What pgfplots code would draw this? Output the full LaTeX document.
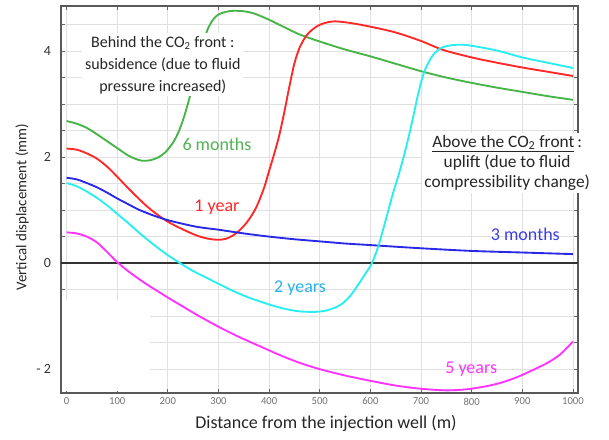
\documentclass[border=0pt]{standalone}
\usepackage{fontspec}
\setmainfont{Carlito}
\usepackage{pgfplots}
\pgfplotsset{compat=1.18}
\definecolor{cgreen}{RGB}{70,180,70}
\definecolor{cred}{RGB}{255,40,40}
\definecolor{cblue}{RGB}{40,40,230}
\definecolor{ccyan}{RGB}{40,238,240}
\definecolor{cmag}{RGB}{255,50,255}
\definecolor{tgreen}{RGB}{80,180,80}
\definecolor{tcyan}{RGB}{40,176,232}
\definecolor{tblue}{RGB}{60,60,230}
\begin{document}
\begin{tikzpicture}
\path[use as bounding box] (-45.75pt,-34.5pt) rectangle (411pt,294.75pt);
\begin{axis}[
  at={(0,0)}, anchor=south west,
  scale only axis, width=387.75pt, height=290.25pt,
  xmin=-11, xmax=1010, ymin=-2.45, ymax=4.85,
  xtick={0,100,...,1000},
  ytick={-2,-1.5,...,4.5},
  yticklabels={- 2,,,,0,,,,2,,,,4,},
  grid=major, major grid style={draw=black!12, line width=0.6pt},
  axis line style={draw=black!65, line width=0.9pt},
  tick align=inside, major tick length=3pt, tick style={black!60, line width=0.6pt},
  /pgf/number format/assume math mode=true,
  /pgf/number format/1000 sep={},
  xticklabel style={font=\fontsize{8}{9}\selectfont, text=black!55},
  yticklabel style={font=\fontsize{10.5}{12}\selectfont, text=black!80, xshift=-4pt},
  xlabel={Distance from the injection well (m)},
  ylabel={Vertical displacement (mm)},
  xlabel style={at={(rel axis cs:0.5126,-0.0775)}, anchor=center, font=\fontsize{13.5}{15}\selectfont, text=black!85},
  ylabel style={at={(rel axis cs:-0.0754,0.48)}, anchor=center, font=\fontsize{11.2}{13}\selectfont, text=black!85},
  clip=false,
  every axis plot/.append style={line width=1.4pt, smooth},
]
\fill[white] (axis cs:-9,-2.42) rectangle (axis cs:165,-0.7);
\draw[black!80, line width=1.1pt] (axis cs:-11,0) -- (axis cs:1010,0);

% 6 months
\addplot[cgreen] coordinates {
(0,2.68)(20,2.63)(40,2.55)(60,2.43)(80,2.30)(100,2.17)(120,2.04)(135,1.97)(150,1.93)(165,1.94)(180,1.99)(195,2.09)(210,2.27)(220,2.45)(230,2.70)(240,3.02)(250,3.40)(260,3.80)(270,4.17)(280,4.44)(290,4.60)(300,4.69)(315,4.74)(330,4.76)(350,4.75)(370,4.71)(400,4.59)(430,4.45)(461,4.31)(500,4.18)(550,4.03)(600,3.90)(650,3.76)(700,3.62)(750,3.50)(800,3.40)(850,3.31)(900,3.23)(950,3.15)(1000,3.08)};
% 1 year
\addplot[cred] coordinates {
(0,2.16)(20,2.14)(40,2.07)(60,1.97)(80,1.82)(100,1.63)(120,1.43)(140,1.24)(160,1.06)(180,0.91)(200,0.78)(220,0.68)(240,0.59)(260,0.51)(280,0.46)(300,0.44)(315,0.46)(330,0.53)(345,0.65)(360,0.82)(375,1.06)(390,1.42)(400,1.74)(410,2.06)(420,2.41)(430,2.85)(440,3.33)(450,3.77)(460,4.06)(470,4.24)(480,4.36)(495,4.47)(510,4.53)(530,4.56)(560,4.53)(600,4.46)(650,4.35)(700,4.19)(744,4.02)(800,3.88)(850,3.78)(900,3.69)(950,3.61)(1000,3.53)};
% 3 months
\addplot[cblue] coordinates {
(0,1.61)(20,1.58)(40,1.51)(60,1.43)(80,1.33)(100,1.22)(120,1.12)(140,1.02)(160,0.94)(180,0.87)(200,0.81)(230,0.74)(260,0.68)(300,0.63)(350,0.56)(400,0.50)(450,0.45)(500,0.41)(550,0.37)(600,0.34)(700,0.28)(800,0.23)(900,0.20)(1000,0.17)};
% 2 years
\addplot[ccyan] coordinates {
(0,1.51)(20,1.45)(40,1.35)(60,1.23)(80,1.09)(100,0.93)(120,0.77)(140,0.60)(160,0.44)(180,0.29)(200,0.15)(224,0.0)(250,-0.15)(275,-0.27)(300,-0.39)(330,-0.53)(360,-0.65)(400,-0.78)(430,-0.86)(460,-0.91)(490,-0.92)(510,-0.90)(530,-0.84)(545,-0.76)(560,-0.62)(575,-0.42)(590,-0.20)(603,0.0)(615,0.30)(625,0.63)(635,0.98)(645,1.33)(655,1.64)(665,1.98)(675,2.36)(685,2.78)(695,3.22)(705,3.57)(715,3.79)(725,3.94)(740,4.06)(760,4.11)(780,4.12)(800,4.10)(850,4.01)(900,3.88)(950,3.78)(1000,3.68)};
% 5 years
\addplot[cmag] coordinates {
(0,0.58)(20,0.56)(40,0.50)(60,0.39)(80,0.21)(100,0.02)(120,-0.14)(140,-0.28)(160,-0.41)(180,-0.53)(200,-0.65)(230,-0.82)(260,-0.99)(300,-1.20)(340,-1.39)(380,-1.56)(420,-1.73)(460,-1.88)(500,-2.00)(550,-2.12)(600,-2.22)(650,-2.31)(700,-2.37)(750,-2.40)(790,-2.38)(830,-2.32)(860,-2.25)(890,-2.15)(920,-2.02)(950,-1.88)(975,-1.72)(1000,-1.48)};

\node[align=center, fill=white, inner sep=2pt, font=\fontsize{12}{16.5}\selectfont, text=black!85] at (axis cs:190,3.74) {Behind the CO\textsubscript{2} front :\\subsidence (due to fluid\\pressure increased)};
\node[align=center, fill=white, inner sep=2pt, font=\fontsize{13}{15}\selectfont, text=black!85] at (axis cs:870,1.89) {\underline{Above the CO\textsubscript{2} front}\,:\\uplift (due to fluid\\compressibility change)};

\node[font=\fontsize{13.5}{15}\selectfont, text=tgreen] at (axis cs:297,2.25) {6 months};
\node[font=\fontsize{13.5}{15}\selectfont, text=cred] at (axis cs:297,1.06) {1 year};
\node[font=\fontsize{13.5}{15}\selectfont, text=tblue] at (axis cs:906,0.55) {3 months};
\node[font=\fontsize{13.5}{15}\selectfont, text=tcyan] at (axis cs:461,-0.47) {2 years};
\node[font=\fontsize{13.5}{15}\selectfont, text=cmag] at (axis cs:799,-2.0) {5 years};
\end{axis}
\end{tikzpicture}
\end{document}
